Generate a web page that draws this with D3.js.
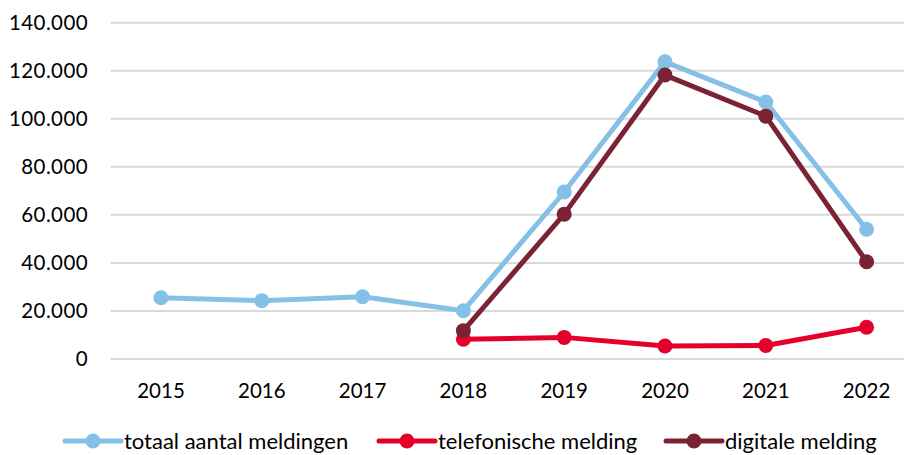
<!DOCTYPE html>
<html>
<head>
<meta charset="utf-8">
<script src="https://cdn.jsdelivr.net/npm/d3@7"></script>
<style>
  body { margin: 0; background: #fff; }
  svg text { font-family: Lato, "Open Sans", sans-serif; fill: #000; }
</style>
</head>
<body>
<div id="chart"></div>
<script>
// data
var years = ["2015", "2016", "2017", "2018", "2019", "2020", "2021", "2022"];
var totaal = [25500, 24300, 25900, 20100, 69500, 123700, 107000, 54000];
var telefonisch = [null, null, null, 8200, 9000, 5400, 5600, 13200];
var digitaal = [null, null, null, 11800, 60300, 118200, 101100, 40500];
var yTicks = [0, 20000, 40000, 60000, 80000, 100000, 120000, 140000];

var seriesNames = ["totaal aantal meldingen", "telefonische melding", "digitale melding"];
var seriesColors = ["#85c1e6", "#e4002b", "#7b2335"];
var seriesValues = [totaal, telefonisch, digitaal];

var w = 904, h = 455;

var svg = d3.select("#chart")
  .append("svg")
  .attr("width", w)
  .attr("height", h);

var x = d3.scaleBand()
  .domain(years)
  .range([110.6, 917]);

var y = d3.scaleLinear()
  .domain([0, 140000])
  .range([359, 22.7]);

var fmt = function(d) {
  return d3.format(",")(d).replace(/,/g, ".");
};

// gridlines
svg.append("g")
  .selectAll("line")
  .data(yTicks)
  .enter()
  .append("line")
  .attr("x1", 110.6)
  .attr("x2", 917)
  .attr("y1", function(d) { return y(d); })
  .attr("y2", function(d) { return y(d); })
  .attr("stroke", "#d9d9d9")
  .attr("stroke-width", 2);

// y labels
svg.append("g")
  .selectAll("text")
  .data(yTicks)
  .enter()
  .append("text")
  .attr("x", 88)
  .attr("y", function(d) { return y(d); })
  .attr("dy", "0.36em")
  .attr("text-anchor", "end")
  .attr("font-size", 20.5)
  .attr("letter-spacing", 0.4)
  .text(fmt);

// x labels
svg.append("g")
  .selectAll("text")
  .data(years)
  .enter()
  .append("text")
  .attr("x", function(d) { return x(d) + x.bandwidth() / 2; })
  .attr("y", 391)
  .attr("dy", "0.36em")
  .attr("text-anchor", "middle")
  .attr("font-size", 20.5)
  .text(function(d) { return d; });

var line = d3.line()
  .defined(function(d) { return d.v != null; })
  .x(function(d) { return x(d.year) + x.bandwidth() / 2; })
  .y(function(d) { return y(d.v); });

seriesValues.forEach(function(vals, s) {
  var pts = vals.map(function(v, i) { return {year: years[i], v: v}; });
  var g = svg.append("g");
  g.append("path")
    .datum(pts)
    .attr("d", line)
    .attr("fill", "none")
    .attr("stroke", seriesColors[s])
    .attr("stroke-width", 5)
    .attr("stroke-linejoin", "round");
  g.selectAll("circle")
    .data(pts.filter(function(d) { return d.v != null; }))
    .enter()
    .append("circle")
    .attr("cx", function(d) { return x(d.year) + x.bandwidth() / 2; })
    .attr("cy", function(d) { return y(d.v); })
    .attr("r", 7.5)
    .attr("fill", seriesColors[s]);
});

// legend
var legendX = [65, 379, 666];
var legendY = 441;
var legend = svg.append("g");
seriesNames.forEach(function(name, s) {
  var lx = legendX[s];
  legend.append("line")
    .attr("x1", lx).attr("x2", lx + 56)
    .attr("y1", legendY).attr("y2", legendY)
    .attr("stroke", seriesColors[s])
    .attr("stroke-width", 5)
    .attr("stroke-linecap", "round");
  legend.append("circle")
    .attr("cx", lx + 28).attr("cy", legendY)
    .attr("r", 7.5)
    .attr("fill", seriesColors[s]);
  legend.append("text")
    .attr("x", lx + 59)
    .attr("y", legendY)
    .attr("dy", "0.36em")
    .attr("font-size", 22)
    .text(name);
});
</script>
</body>
</html>
